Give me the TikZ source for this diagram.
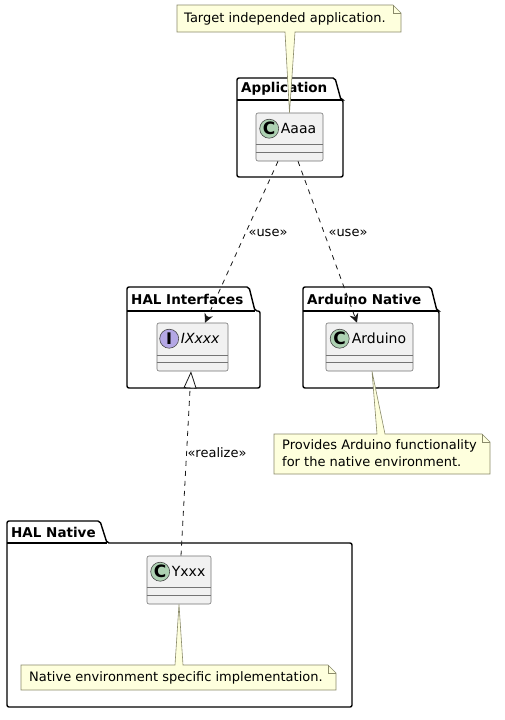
\documentclass[tikz,border=0pt]{standalone}
\usepackage{fontspec}
\setmainfont{DejaVu Sans}
\usetikzlibrary{arrows.meta,calc}
\definecolor{clsfill}{HTML}{F1F1F1}
\definecolor{clsborder}{HTML}{181818}
\definecolor{notefill}{HTML}{FEFFDD}
\definecolor{notedraw}{HTML}{8A8A6A}
\definecolor{cgreen}{HTML}{ADD1B2}
\definecolor{ipurple}{HTML}{B4A7E5}
\begin{document}
\begin{tikzpicture}[x=1pt,y=-1pt,
  pkg/.style={draw=black,line width=1.4pt,rounded corners=2pt,fill=white},
  pkglabel/.style={anchor=west,inner sep=0pt,font=\fontsize{13.5}{16}\selectfont\bfseries},
  umlclass/.style={draw=clsborder!60,line width=0.6pt,fill=clsfill,rounded corners=2pt,inner sep=0pt,minimum height=48pt},
  cmpline/.style={draw=clsborder!60,line width=0.6pt},
  badge/.style={circle,draw=clsborder!80,line width=0.6pt,minimum size=19pt,inner sep=0pt,font=\fontsize{17}{18}\selectfont\bfseries},
  clsname/.style={anchor=west,inner sep=0pt,font=\fontsize{14}{16}\selectfont},
  note/.style={draw=notedraw,line width=0.6pt,fill=notefill},
  notetext/.style={anchor=west,inner sep=0pt,font=\fontsize{13}{15}\selectfont},
  dep/.style={draw=clsborder,line width=0.8pt,dash pattern=on 5pt off 5pt},
  lbl/.style={inner sep=0pt,font=\fontsize{13}{15}\selectfont},
  usearrow/.style={-{Stealth[length=9pt,width=9pt,inset=3pt]}},
  realarrow/.style={-{Triangle[open,length=17pt,width=13pt,fill=white]}}
]
\useasboundingbox (0,0) rectangle (505,720);
\fill[white] (0,0) rectangle (505,720);

% ---------- packages ----------
\draw[pkg] (237,100) -- (237,78) -- (335,78) -- (341,100) -- (343,100) -- (343,177) -- (237,177) -- cycle;
\draw[line width=1.4pt] (237,100) -- (341,100);
\node[pkglabel] (papp) at (241,89) {Application};

\draw[pkg] (127,311) -- (127,287) -- (249,287) -- (255,311) -- (260,311) -- (260,388) -- (127,388) -- cycle;
\draw[line width=1.4pt] (127,311) -- (255,311);
\node[pkglabel] (phal) at (131,299) {HAL Interfaces};

\draw[pkg] (303,311) -- (303,287) -- (431,287) -- (437,311) -- (439,311) -- (439,388) -- (303,388) -- cycle;
\draw[line width=1.4pt] (303,311) -- (437,311);
\node[pkglabel] (pard) at (307,299) {Arduino Native};

\draw[pkg] (7,543) -- (7,521) -- (100,521) -- (107,543) -- (352,543) -- (352,707) -- (7,707) -- cycle;
\draw[line width=1.4pt] (7,543) -- (107,543);
\node[pkglabel] (pnat) at (11,532) {HAL Native};

% ---------- classes ----------
\node[umlclass,minimum width=67pt] (aaaa) at (289.5,137) {};
\draw[cmpline] ($(aaaa.north west)+(0,32)$) -- ($(aaaa.north east)+(0,32)$);
\draw[cmpline] ($(aaaa.north west)+(0,40)$) -- ($(aaaa.north east)+(0,40)$);
\node[badge,fill=cgreen] (aaaab) at ($(aaaa.north west)+(13.5,16)$) {C};
\node[clsname] (aaaan) at ($(aaaa.north west)+(25,16)$) {Aaaa};

\node[umlclass,minimum width=71pt] (ixxxx) at (192.5,347) {};
\draw[cmpline] ($(ixxxx.north west)+(0,33)$) -- ($(ixxxx.north east)+(0,33)$);
\draw[cmpline] ($(ixxxx.north west)+(0,40)$) -- ($(ixxxx.north east)+(0,40)$);
\node[badge,fill=ipurple,font=\fontsize{16}{18}\selectfont\bfseries\rmfamily] (ixxxxb) at ($(ixxxx.north west)+(12.5,16)$) {I};
\node[clsname,font=\fontsize{14}{16}\selectfont\itshape] (ixxxxn) at ($(ixxxx.north west)+(24,16)$) {IXxxx};

\node[umlclass,minimum width=87pt] (ardu) at (369.5,347) {};
\draw[cmpline] ($(ardu.north west)+(0,33)$) -- ($(ardu.north east)+(0,33)$);
\draw[cmpline] ($(ardu.north west)+(0,40)$) -- ($(ardu.north east)+(0,40)$);
\node[badge,fill=cgreen] (ardub) at ($(ardu.north west)+(14,16)$) {C};
\node[clsname] (ardun) at ($(ardu.north west)+(26,16)$) {Arduino};

\node[umlclass,minimum width=64pt] (yxxx) at (179,580) {};
\draw[cmpline] ($(yxxx.north west)+(0,32)$) -- ($(yxxx.north east)+(0,32)$);
\draw[cmpline] ($(yxxx.north west)+(0,40)$) -- ($(yxxx.north east)+(0,40)$);
\node[badge,fill=cgreen] (yxxxb) at ($(yxxx.north west)+(13.5,16)$) {C};
\node[clsname] (yxxxn) at ($(yxxx.north west)+(25,16)$) {Yxxx};

% ---------- notes ----------
\draw[note] (177,5) -- (393,5) -- (401,13) -- (401,32) -- (295,32) -- (aaaa.north) -- (285,32) -- (177,32) -- cycle;
\draw[notedraw,line width=0.6pt] (393,5) -- (393,13) -- (401,13);
\node[notetext] (n1) at (184,18.5) {Target independed application.};

\draw[note] (274,434) -- (377,434) -- ($(ardu.south)+(2.5,0)$) -- (385,434) -- (482,434) -- (490,442) -- (490,474) -- (274,474) -- cycle;
\draw[notedraw,line width=0.6pt] (482,434) -- (482,442) -- (490,442);
\node[notetext] (n2a) at (282,446) {Provides Arduino functionality};
\node[notetext] (n2b) at (282,462) {for the native environment.};

\draw[note] (21,665) -- (175,665) -- (yxxx.south) -- (183,665) -- (328,665) -- (336,673) -- (336,690) -- (21,690) -- cycle;
\draw[notedraw,line width=0.6pt] (328,665) -- (328,673) -- (336,673);
\node[notetext] (n3) at (29,677.5) {Native environment specific implementation.};

% ---------- relations ----------
\draw[dep,usearrow] ($(aaaa.south)+(-11.5,0)$) -- ($(ixxxx.north)+(12.5,0)$);
\node[lbl] (l1) at (268,233) {«use»};
\draw[dep,usearrow] ($(aaaa.south)+(8.5,0)$) -- ($(ardu.north)+(-12.5,0)$);
\node[lbl] (l2) at (348,233) {«use»};
\draw[dep,realarrow] ($(yxxx.north)+(2,0)$) -- ($(ixxxx.south)+(-1.5,0)$);
\node[lbl] (l3) at (217,453) {«realize»};
\end{tikzpicture}
\end{document}
